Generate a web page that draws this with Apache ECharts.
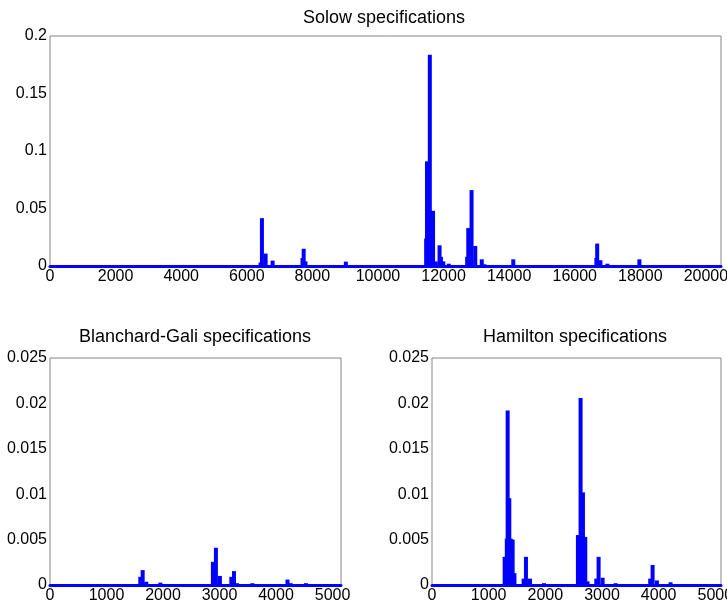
<!DOCTYPE html>
<html>
<head>
<meta charset="utf-8">
<script src="https://cdn.jsdelivr.net/npm/echarts@6/dist/echarts.min.js"></script>
<style>
  html, body { margin: 0; padding: 0; background: #fff; }
</style>
</head>
<body>
<div id="main" style="width: 727px;height: 603px"></div>
<script>
// spike positions (model index) and heights
var solowPos = [6420, 6462, 6575, 6787, 7700, 7735, 7790, 9021, 11470, 11496, 11581, 11680, 11764, 11878, 11920, 11991, 12160, 12720, 12754, 12854, 12967, 13165, 13250, 14126, 16660, 16685, 16784, 16996, 17972];
var solowVal = [0.003, 0.0416, 0.0108, 0.0047, 0.007, 0.015, 0.004, 0.0038, 0.024, 0.091, 0.1837, 0.048, 0.004, 0.018, 0.008, 0.004, 0.002, 0.008, 0.033, 0.066, 0.0174, 0.0058, 0.0015, 0.0058, 0.007, 0.0195, 0.005, 0.002, 0.0058];

var bgPos = [1598, 1640, 1705, 1953, 2883, 2936, 3007, 3209, 3256, 3310, 3582, 4203, 4260, 4529];
var bgVal = [0.0009, 0.00164, 0.00036, 0.00026, 0.00255, 0.0041, 0.001, 0.0009, 0.00153, 0.0002, 0.0002, 0.0006, 0.0002, 0.0002];

var hamPos = [1282, 1320, 1335, 1364, 1390, 1423, 1455, 1617, 1658, 1729, 1976, 2575, 2622, 2664, 2705, 2745, 2899, 2940, 3011, 3240, 3851, 3893, 3969, 4210];
var hamVal = [0.0031, 0.0051, 0.01923, 0.00956, 0.0051, 0.005, 0.0013, 0.0007, 0.0031, 0.0007, 0.0002, 0.0055, 0.0206, 0.0102, 0.0053, 0.0004, 0.0007, 0.0031, 0.0008, 0.0002, 0.0007, 0.0022, 0.0005, 0.0003];

var titles = ['Solow specifications', 'Blanchard-Gali specifications', 'Hamilton specifications'];

var chartDom = document.getElementById('main');
var myChart = echarts.init(chartDom);

var font = 'Liberation Sans, Arial, sans-serif';

function pairs(xs, ys) {
  var out = [];
  for (var i = 0; i < xs.length; i++) {
    out.push([xs[i], ys[i]]);
  }
  return out;
}

function xAx(idx, max, step) {
  return {
    type: 'value',
    gridIndex: idx,
    min: 0,
    max: max,
    interval: step,
    axisLine: { show: true, onZero: false, lineStyle: { color: '#0000ff', width: 3 } },
    axisTick: { show: false },
    splitLine: { show: false },
    axisLabel: {
      color: '#000',
      fontFamily: font,
      fontSize: 16,
      margin: 3,
      formatter: function (v) { return v % step === 0 ? String(v) : ''; }
    }
  };
}

function yAx(idx, max, step) {
  return {
    type: 'value',
    gridIndex: idx,
    min: 0,
    max: max,
    interval: step,
    axisLine: { show: false },
    axisTick: { show: false },
    splitLine: { show: false },
    axisLabel: { color: '#000', fontFamily: font, fontSize: 16, margin: 3 }
  };
}

function barSeries(idx, xs, ys) {
  return {
    type: 'bar',
    xAxisIndex: idx,
    yAxisIndex: idx,
    barWidth: 4,
    itemStyle: { color: '#0000ff' },
    silent: true,
    data: pairs(xs, ys)
  };
}

var titleStyle = { color: '#000', fontFamily: font, fontSize: 18, fontWeight: 'normal' };

var option = {
  animation: false,
  title: [
    { text: titles[0], left: 379, top: 4, textAlign: 'center', textStyle: titleStyle },
    { text: titles[1], left: 190, top: 323, textAlign: 'center', textStyle: titleStyle },
    { text: titles[2], left: 570, top: 323, textAlign: 'center', textStyle: titleStyle }
  ],
  grid: [
    { left: 50, top: 36, width: 671, height: 230, show: true, borderColor: '#858585', borderWidth: 1, outerBoundsMode: 'none' },
    { left: 50, top: 358, width: 291, height: 227, show: true, borderColor: '#858585', borderWidth: 1, outerBoundsMode: 'none' },
    { left: 432, top: 358, width: 289, height: 227, show: true, borderColor: '#858585', borderWidth: 1, outerBoundsMode: 'none' }
  ],
  xAxis: [xAx(0, 20460, 2000), xAx(1, 5150, 1000), xAx(2, 5100, 1000)],
  yAxis: [yAx(0, 0.2, 0.05), yAx(1, 0.025, 0.005), yAx(2, 0.025, 0.005)],
  series: [
    barSeries(0, solowPos, solowVal),
    barSeries(1, bgPos, bgVal),
    barSeries(2, hamPos, hamVal)
  ]
};

option && myChart.setOption(option);
</script>
</body>
</html>
